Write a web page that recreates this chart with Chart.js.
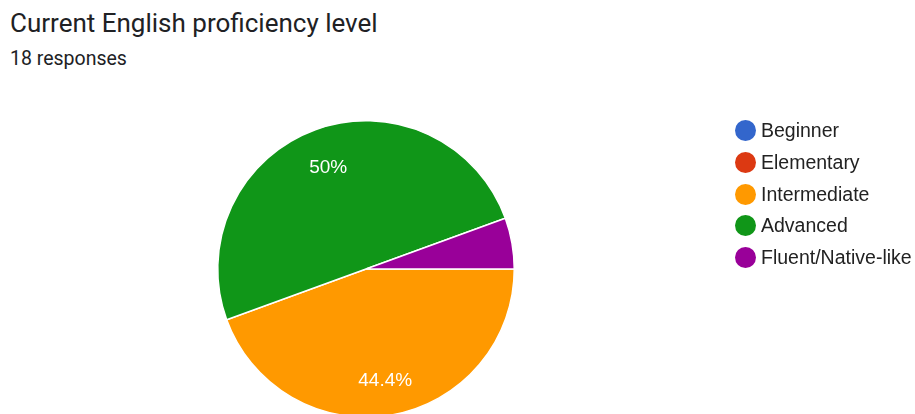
<!DOCTYPE html>
<html>
<head>
<meta charset="utf-8">
<script src="https://cdn.jsdelivr.net/npm/chart.js@4/dist/chart.umd.min.js"></script>
<style>
  body { margin: 0; background: #fff; overflow: hidden; width: 915px; height: 414px; position: relative; }
  #title { position: absolute; left: 10px; top: 8px; font-family: Roboto, sans-serif; font-size: 26px; color: #202124; white-space: nowrap; }
  #sub { position: absolute; left: 10px; top: 47px; font-family: Roboto, sans-serif; font-size: 19.5px; color: #202124; white-space: nowrap; }
  #wrap { position: absolute; left: 0; top: 0; width: 915px; height: 440px; }
  #legend { position: absolute; left: 735px; top: 115px; font-family: "Liberation Sans", Arial, sans-serif; font-size: 19.5px; color: #222; }
  .row { height: 31.7px; display: flex; align-items: center; white-space: nowrap; }
  .dot { width: 21px; height: 21px; border-radius: 50%; margin-right: 5px; }
</style>
</head>
<body>
<div id="title">Current English proficiency level</div>
<div id="sub">18 responses</div>
<div id="wrap"><canvas id="pie"></canvas></div>
<div id="legend"></div>
<script>
// answers from the form
const levels = ['Beginner', 'Elementary', 'Intermediate', 'Advanced', 'Fluent/Native-like'];
const counts = [0, 0, 8, 9, 1];
const colors = ['#3366cc', '#dc3912', '#ff9900', '#109618', '#990099'];

let total = counts.reduce((a, b) => a + b, 0)

// legend in html
let leg = document.getElementById('legend')
for (let i = 0; i < levels.length; i++) {
  let row = document.createElement('div')
  row.className = 'row'
  row.innerHTML = '<div class="dot" style="background:' + colors[i] + '"></div>' + levels[i]
  leg.appendChild(row)
}

// percent labels inside the slices
const pctLabels = {
  id: 'pctLabels',
  afterDatasetsDraw(chart) {
    let ctx = chart.ctx
    let meta = chart.getDatasetMeta(0)
    ctx.save()
    ctx.font = '19px "Liberation Sans", Arial, sans-serif'
    ctx.fillStyle = '#ffffff'
    ctx.textAlign = 'center'
    ctx.textBaseline = 'middle'
    meta.data.forEach((arc, i) => {
      let pct = counts[i] / total * 100
      if (pct < 10) return // small slices get no label
      let mid = (arc.startAngle + arc.endAngle) / 2
      let r = arc.outerRadius * 0.745
      let txt = (Math.round(pct * 10) / 10) + '%'
      ctx.fillText(txt, arc.x + Math.cos(mid) * r, arc.y + Math.sin(mid) * r + 3)
    })
    ctx.restore()
  }
}

const pie = new Chart(document.getElementById('pie'), {
  type: 'pie',
  data: {
    labels: levels,
    datasets: [{
      data: counts,
      backgroundColor: colors,
      borderColor: '#ffffff',
      borderWidth: 1.5
    }]
  },
  options: {
    responsive: true,
    maintainAspectRatio: false,
    animation: false,
    rotation: 90,
    layout: { padding: { left: 217, right: 400, top: 120, bottom: 22 } },
    plugins: {
      legend: { display: false },
      tooltip: { enabled: false }
    }
  },
  plugins: [pctLabels]
});
</script>
</body>
</html>
